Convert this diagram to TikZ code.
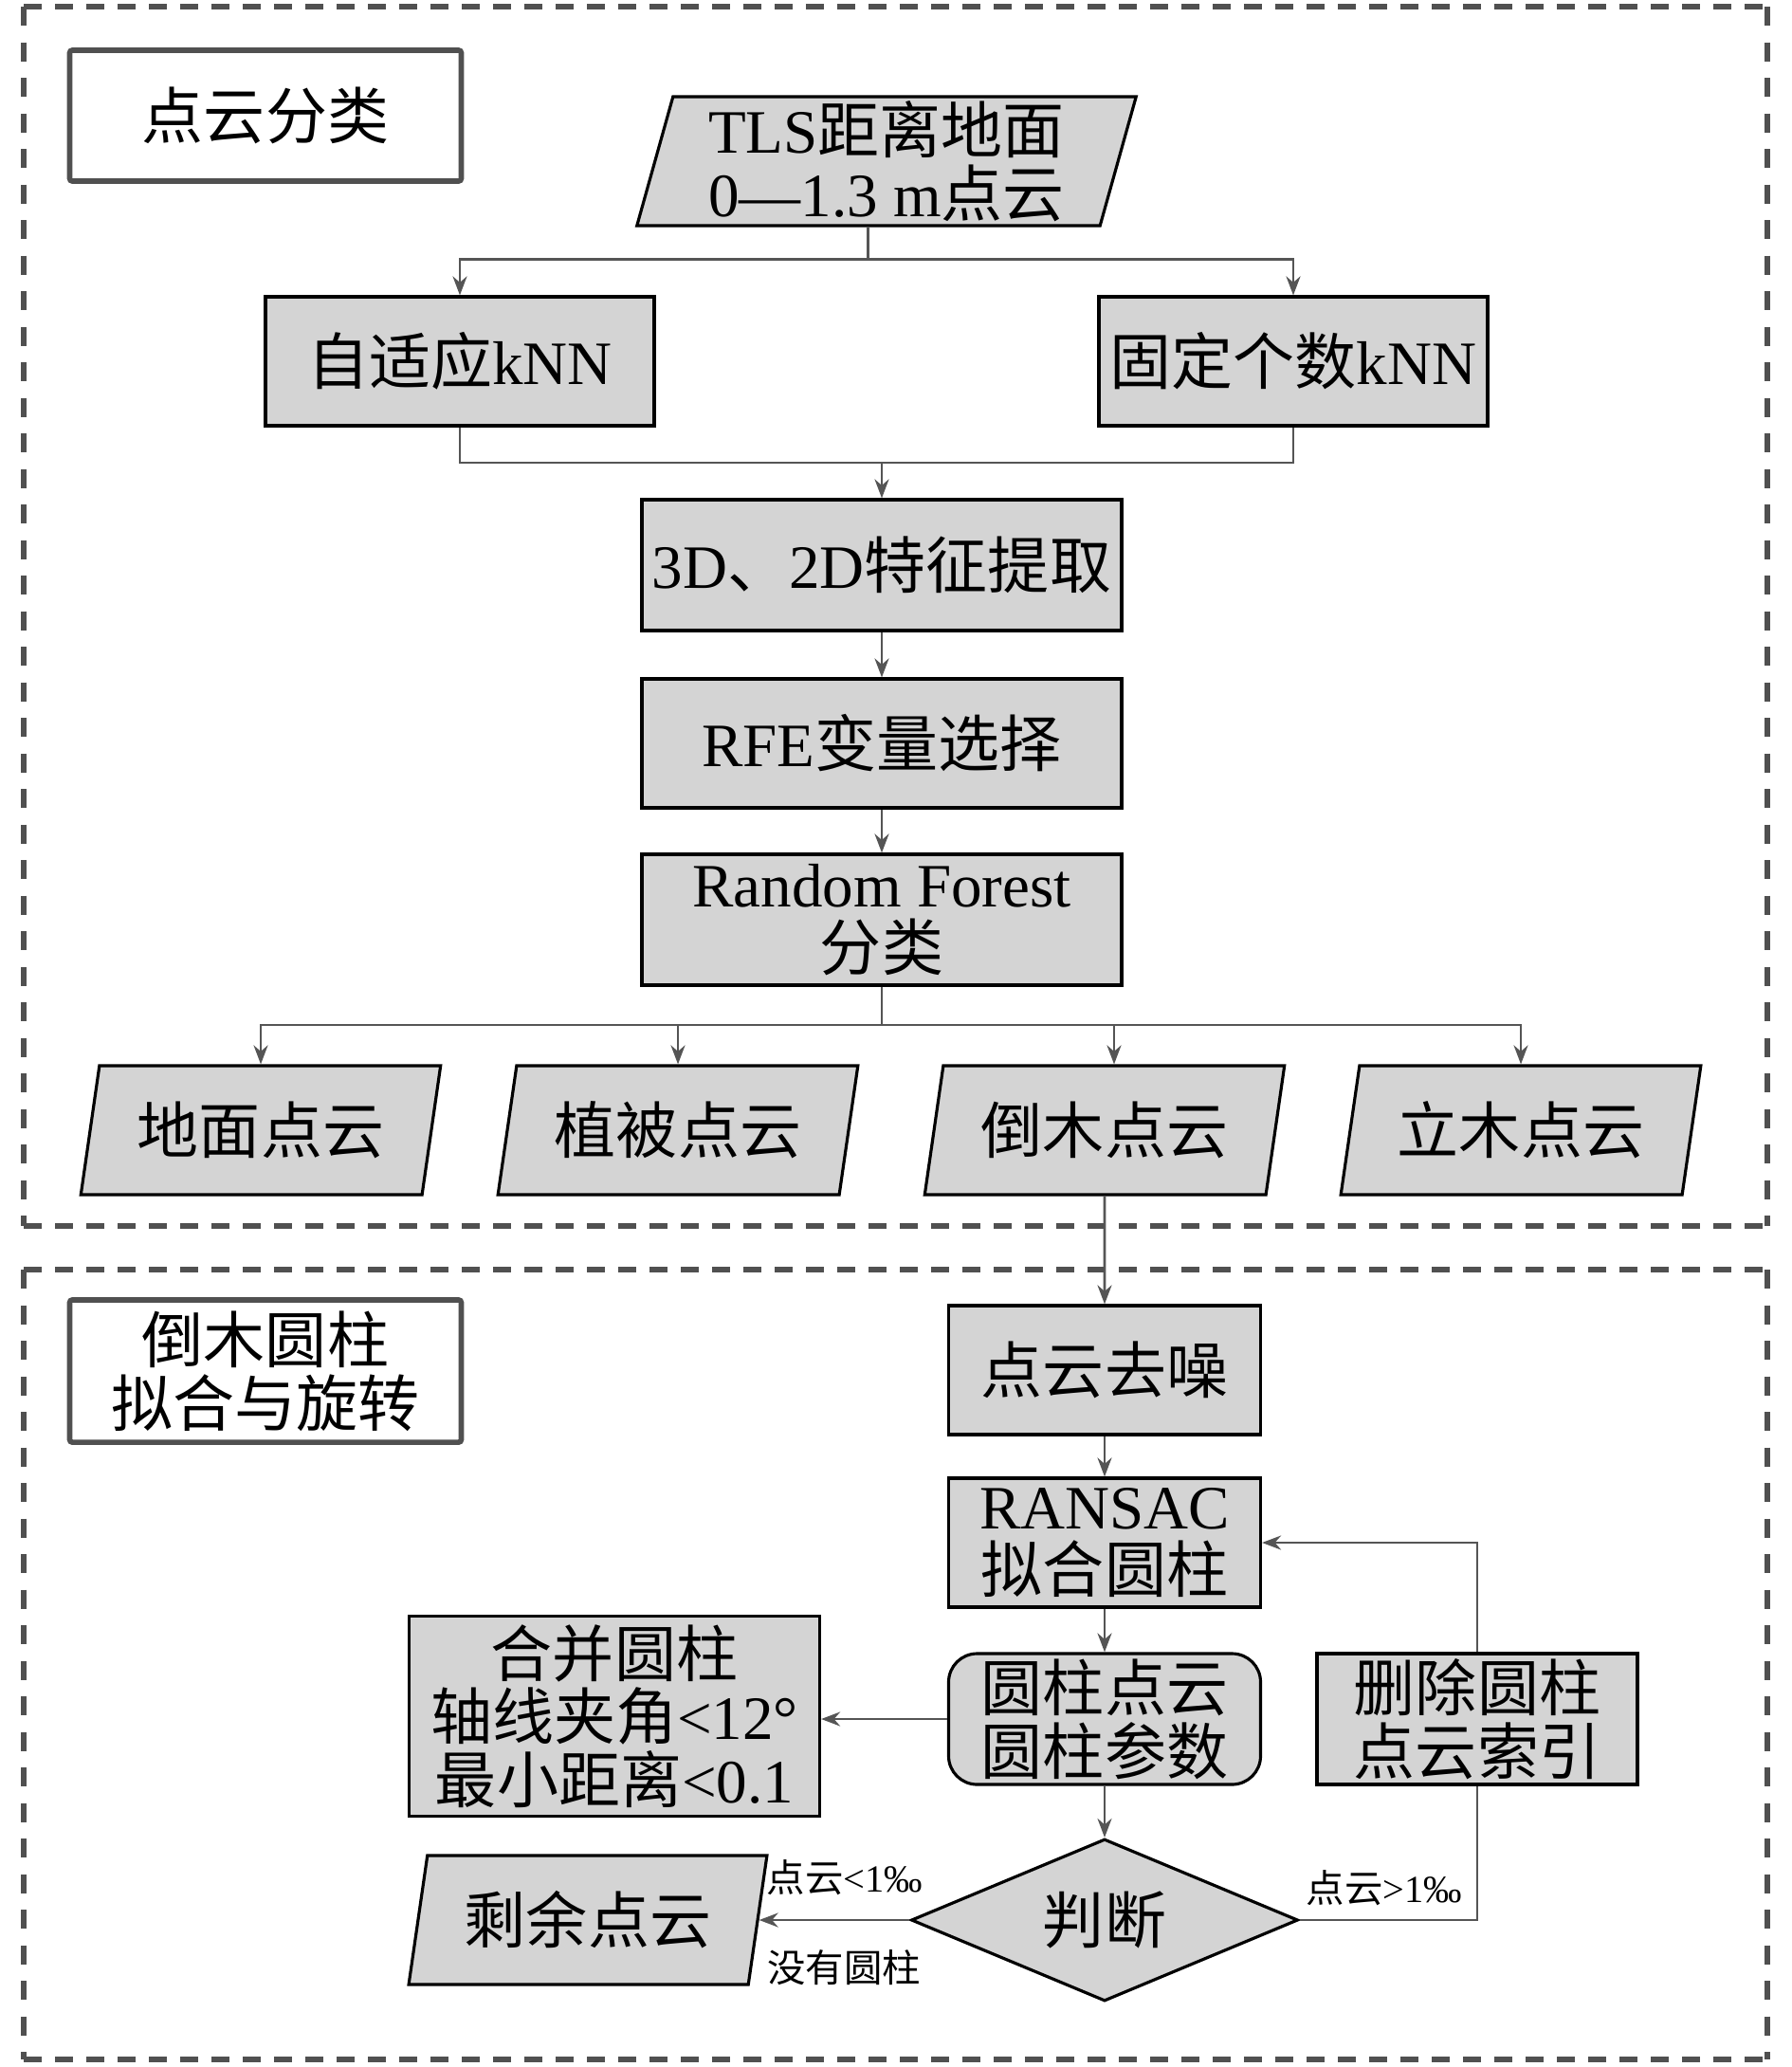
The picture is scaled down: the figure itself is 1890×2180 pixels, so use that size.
\documentclass[tikz,border=0pt]{standalone}
\usepackage{fontspec}
\setmainfont{Liberation Serif}
\newfontfamily\zhfont{Noto Sans CJK SC}
\newcommand\zh[1]{{\zhfont #1}}
\usetikzlibrary{arrows.meta,shapes.geometric}
\definecolor{boxfill}{RGB}{212,212,212}
\definecolor{lncol}{RGB}{85,85,85}
\definecolor{frcol}{RGB}{80,80,80}
\tikzset{
  blk/.style={rectangle, draw=black, line width=0.9pt, fill=boxfill, inner sep=0pt,
              align=center, font=\fontsize{18.5}{19}\selectfont},
  io/.style={trapezium, trapezium left angle=76, trapezium right angle=104,
             trapezium stretches=true, draw=black, line width=0.9pt, fill=boxfill,
             inner sep=0pt, minimum height=13.6mm, align=center, font=\fontsize{18.5}{19}\selectfont},
  proc/.style={blk, rounded corners=3mm},
  dec/.style={diamond, aspect=2.4, draw=black, line width=0.9pt, fill=boxfill, inner sep=0pt,
              minimum width=40.8mm, minimum height=17.1mm, font=\fontsize{18.5}{19}\selectfont},
  ttl/.style={rectangle, rounded corners=0.8pt, draw=frcol, line width=1.6pt, fill=white,
              minimum width=41.3mm, minimum height=13.8mm, align=center,
              font=\fontsize{18.5}{19}\selectfont},
  ln/.style={draw=lncol, line width=0.8pt},
  ar/.style={ln, -{Stealth[length=2mm,width=1.5mm]}},
  lbl/.style={font=\fontsize{11.5}{12}\selectfont},
  frameh/.style={draw=frcol, line width=1.5pt, dash pattern=on 1.85mm off 1.45mm},
  framev/.style={draw=frcol, line width=1.5pt, dash pattern=on 2mm off 1.75mm},
}

\begin{document}
\begin{tikzpicture}[x=0.1mm,y=-0.1mm]
\useasboundingbox (0,0) rectangle (1890,2180);
% dashed frames
\foreach \ya/\yb in {7/1293,1339/2172} {
  \draw[frameh] (25,\ya) -- (1864,\ya) (25,\yb) -- (1864,\yb);
  \draw[framev] (25,\ya) -- (25,\yb) (1864,\ya) -- (1864,\yb);
}
% classification
\node[ttl] (t1) at (280,122) {\zh{点云分类}};
\node[io, minimum width=52.7mm] (tls) at (935,170) {TLS\zh{距离地面}\\0—1.3 m\zh{点云}};
\node[blk, minimum width=41mm, minimum height=13.6mm] (knn1) at (485,381) {\zh{自适应}kNN};
\node[blk, minimum width=41mm, minimum height=13.6mm] (knn2) at (1364,381) {\zh{固定个数}kNN};
\node[blk, minimum width=50.6mm, minimum height=13.8mm] (feat) at (930,596) {3D\zh{、}2D\zh{特征提取}};
\node[blk, minimum width=50.6mm, minimum height=13.6mm] (rfe) at (930,784) {RFE\zh{变量选择}};
\node[blk, minimum width=50.6mm, minimum height=13.8mm] (rf) at (930,970) {Random Forest\\\zh{分类}};
\foreach \n/\x/\t in {c1/275/地面点云,c2/715/植被点云,c3/1165/倒木点云,c4/1604/立木点云}
  \node[io, minimum width=38mm] (\n) at (\x,1192) {\zh{\t}};

\draw[ln] (tls.bottom side) -- ++(0,34) coordinate (sp);
\draw[ar] (sp) -| (knn1.north);
\draw[ar] (sp) -| (knn2.north);
\coordinate (mg) at (930,488);
\draw[ln] (knn1.south) |- (mg) -| (knn2.south);
\draw[ar] (mg) -- (feat.north);
\draw[ar] (feat) -- (rfe);
\draw[ar] (rfe) -- (rf);
\coordinate (fk) at (930,1081);
\draw[ln] (rf.south) -- (fk);
\draw[ar] (fk) -| (c1.north);
\draw[ar] (fk) -| (c2.north);
\draw[ar] (fk) -| (c3.top side);
\draw[ar] (fk) -| (c4.north);

% cylinder fitting
\node[ttl] (t2) at (280,1446) {\zh{倒木圆柱}\\\zh{拟合与旋转}};
\node[blk, minimum width=32.9mm, minimum height=13.6mm] (qz) at (1165,1445) {\zh{点云去噪}};
\node[blk, minimum width=32.9mm, minimum height=13.6mm] (ran) at (1165,1627) {RANSAC\\\zh{拟合圆柱}};
\node[proc, minimum width=32.9mm, minimum height=13.8mm] (cyl) at (1165,1813) {\zh{圆柱点云}\\\zh{圆柱参数}};
\node[blk, minimum width=43.3mm, minimum height=21.1mm] (mrg) at (648,1810) {\zh{合并圆柱}\\\zh{轴线夹角}<12°\\\zh{最小距离}<0.1};
\node[blk, minimum width=33.8mm, minimum height=13.8mm] (del) at (1558,1813) {\zh{删除圆柱}\\\zh{点云索引}};
\node[dec] (dia) at (1165,2025) {\zh{判断}};
\node[io, minimum width=37.8mm] (rest) at (620,2025) {\zh{剩余点云}};

\draw[ar] (c3.south) -- (qz.north);
\draw[ar] (qz) -- (ran);
\draw[ar] (ran) -- (cyl);
\draw[ar] (cyl) -- (dia);
\draw[ar] (cyl.west) -- (cyl.west -| mrg.east);
\draw[ar] (dia.west) -- (rest.right side);
\draw[ln] (dia.east) -| (del.south);
\draw[ar] (del.north) |- (ran.east);

\node[lbl] (l1) at (891,1980) {\zh{点云}<1‰};
\node[lbl] (l2) at (890,2075) {\zh{没有圆柱}};
\node[lbl] (l3) at (1460,1991) {\zh{点云}>1‰};
\end{tikzpicture}
\end{document}
